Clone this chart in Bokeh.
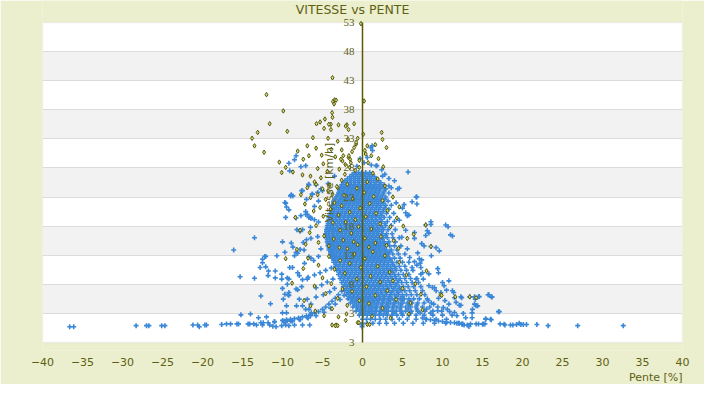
import math
from bokeh.plotting import figure
from bokeh.models import FixedTicker, BoxAnnotation, Title, LabelSet, Label, ColumnDataSource
from bokeh.embed import file_html
from bokeh.resources import INLINE

# ---------------- data ----------------
x_ticks = [-40, -35, -30, -25, -20, -15, -10, -5, 0, 5, 10, 15, 20, 25, 30, 35, 40]
y_ticks = [-2, 3, 8, 13, 18, 23, 28, 33, 38, 43, 48, 53]
y_tick_labels = ["3", "3", "8", "13", "18", "23", "28", "33", "38", "43", "48", "53"]

# dense blue core: (speed, [slopes])
blue_rows = [
    (27.2, [-1.0, -0.5, -0.1, 0.4, 0.9]),
    (26.5, [-1.6, -1.1, -0.6, -0.1, 0.4, 0.9, 1.5]),
    (25.8, [-2.2, -1.6, -1.1, -0.6, -0.1, 0.4, 0.9, 1.4, 2.0]),
    (25.1, [-2.6, -2.0, -1.5, -1.0, -0.5, 0.0, 0.5, 1.0, 1.5, 2.1, 2.7]),
    (24.4, [-2.8, -2.3, -1.8, -1.3, -0.8, -0.3, 0.2, 0.7, 1.2, 1.7, 2.2, 2.9]),
    (23.7, [-3.0, -2.5, -2.0, -1.5, -1.0, -0.5, 0.0, 0.5, 1.0, 1.5, 2.0, 2.6, 3.3]),
    (23.0, [-3.3, -2.7, -2.2, -1.7, -1.2, -0.7, -0.2, 0.3, 0.8, 1.3, 1.8, 2.3, 2.9]),
    (22.3, [-3.6, -3.0, -2.5, -2.0, -1.5, -1.0, -0.5, 0.0, 0.5, 1.0, 1.5, 2.0, 2.5, 3.2]),
    (21.6, [-3.8, -3.2, -2.7, -2.2, -1.7, -1.2, -0.7, -0.2, 0.3, 0.8, 1.3, 1.8, 2.3, 2.9, 3.6]),
    (20.9, [-3.9, -3.5, -3.0, -2.5, -2.0, -1.5, -1.0, -0.5, 0.0, 0.5, 1.0, 1.5, 2.0, 2.6, 3.3]),
    (20.2, [-4.0, -3.6, -3.2, -2.7, -2.2, -1.7, -1.2, -0.7, -0.2, 0.3, 0.8, 1.3, 1.8, 2.3, 3.0, 3.9]),
    (19.5, [-4.2, -3.8, -3.4, -2.9, -2.4, -1.9, -1.4, -0.9, -0.4, 0.1, 0.6, 1.1, 1.6, 2.1, 2.7, 3.4]),
    (18.8, [-4.3, -4.0, -3.6, -3.1, -2.6, -2.1, -1.6, -1.1, -0.6, -0.1, 0.4, 0.9, 1.4, 1.9, 2.4, 3.1, 4.0]),
    (18.1, [-4.4, -4.0, -3.7, -3.2, -2.7, -2.2, -1.7, -1.2, -0.7, -0.2, 0.3, 0.8, 1.3, 1.8, 2.3, 2.9, 3.6]),
    (17.4, [-4.5, -4.1, -3.8, -3.4, -2.9, -2.4, -1.9, -1.4, -0.9, -0.4, 0.1, 0.6, 1.1, 1.6, 2.1, 2.6, 3.2, 4.1]),
    (16.7, [-4.6, -4.2, -3.8, -3.5, -3.0, -2.5, -2.0, -1.5, -1.0, -0.5, 0.0, 0.5, 1.0, 1.5, 2.0, 2.5, 3.0, 3.7]),
    (16.0, [-4.5, -4.1, -3.8, -3.4, -2.9, -2.4, -1.9, -1.4, -0.9, -0.4, 0.1, 0.6, 1.1, 1.6, 2.1, 2.6, 3.1, 3.8, 4.6]),
    (15.3, [-4.4, -4.0, -3.7, -3.3, -2.8, -2.3, -1.8, -1.3, -0.8, -0.3, 0.2, 0.7, 1.2, 1.7, 2.2, 2.7, 3.3, 4.1]),
    (14.6, [-4.3, -3.9, -3.6, -3.2, -2.7, -2.2, -1.7, -1.2, -0.7, -0.2, 0.3, 0.8, 1.3, 1.8, 2.3, 2.8, 3.4, 4.0, 4.8]),
    (13.9, [-4.2, -3.8, -3.5, -3.0, -2.5, -2.0, -1.5, -1.0, -0.5, 0.0, 0.5, 1.0, 1.5, 2.0, 2.5, 3.0, 3.6, 4.3]),
    (13.2, [-4.0, -3.7, -3.3, -2.8, -2.3, -1.8, -1.3, -0.8, -0.3, 0.2, 0.7, 1.2, 1.7, 2.2, 2.7, 3.2, 3.8, 4.5, 5.3]),
    (12.5, [-3.8, -3.5, -3.1, -2.6, -2.1, -1.6, -1.1, -0.6, -0.1, 0.4, 0.9, 1.4, 1.9, 2.4, 2.9, 3.4, 4.0, 4.7]),
    (11.8, [-3.6, -3.3, -2.8, -2.3, -1.8, -1.3, -0.8, -0.3, 0.2, 0.7, 1.2, 1.7, 2.2, 2.7, 3.2, 3.7, 4.3, 5.0, 5.8]),
    (11.1, [-3.4, -3.0, -2.5, -2.0, -1.5, -1.0, -0.5, 0.0, 0.5, 1.0, 1.5, 2.0, 2.5, 3.0, 3.5, 4.0, 4.6, 5.3]),
    (10.4, [-3.2, -2.8, -2.3, -1.8, -1.3, -0.8, -0.3, 0.2, 0.7, 1.2, 1.7, 2.2, 2.7, 3.2, 3.7, 4.2, 4.8, 5.5, 6.3]),
    (9.7, [-3.0, -2.5, -2.0, -1.5, -1.0, -0.5, 0.0, 0.5, 1.0, 1.5, 2.0, 2.5, 3.0, 3.5, 4.0, 4.5, 5.1, 5.8]),
    (9.0, [-2.8, -2.3, -1.8, -1.3, -0.8, -0.3, 0.2, 0.7, 1.2, 1.7, 2.2, 2.7, 3.2, 3.7, 4.2, 4.7, 5.3, 6.0, 6.8]),
    (8.3, [-2.6, -2.1, -1.6, -1.1, -0.6, -0.1, 0.4, 0.9, 1.4, 1.9, 2.4, 2.9, 3.4, 3.9, 4.4, 4.9, 5.5, 6.2, 7.0]),
    (7.6, [-2.4, -1.9, -1.4, -0.9, -0.4, 0.1, 0.6, 1.1, 1.6, 2.1, 2.6, 3.1, 3.6, 4.1, 4.6, 5.1, 5.7, 6.4, 7.3]),
    (6.9, [-2.2, -1.7, -1.2, -0.7, -0.2, 0.3, 0.8, 1.3, 1.8, 2.3, 2.8, 3.3, 3.8, 4.3, 4.8, 5.3, 5.9, 6.6, 7.5]),
    (6.2, [-2.0, -1.5, -1.0, -0.5, 0.0, 0.5, 1.0, 1.5, 2.0, 2.5, 3.0, 3.5, 4.0, 4.5, 5.0, 5.5, 6.1, 6.8, 7.8]),
    (5.5, [-1.8, -1.3, -0.8, -0.3, 0.2, 0.7, 1.2, 1.7, 2.2, 2.7, 3.2, 3.7, 4.2, 4.7, 5.2, 5.8, 6.4, 7.1, 8.1]),
    (4.8, [-1.5, -1.0, -0.5, 0.0, 0.5, 1.0, 1.5, 2.0, 2.5, 3.0, 3.5, 4.0, 4.5, 5.0, 5.6, 6.2, 6.9, 7.7, 8.6]),
    (4.1, [-1.2, -0.7, -0.2, 0.3, 0.8, 1.3, 1.8, 2.3, 2.8, 3.3, 3.8, 4.3, 4.8, 5.4, 6.0, 6.7, 7.5, 8.4, 9.4]),
    (3.4, [-0.8, -0.3, 0.2, 0.7, 1.2, 1.7, 2.2, 2.7, 3.2, 3.7, 4.2, 4.8, 5.4, 6.1, 6.9, 7.8, 8.8, 9.9]),
    (2.7, [-0.4, 0.1, 0.6, 1.1, 1.6, 2.1, 2.6, 3.1, 3.7, 4.3, 5.0, 5.8, 6.7, 7.7, 8.8, 10.0, 11.2]),
    (2.0, [0.0, 0.5, 1.0, 1.6, 2.2, 2.9, 3.7, 4.6, 5.6, 6.7, 7.9, 9.2, 10.5]),
    (1.3, [0.0, 0.6, 1.3, 2.1, 3.0, 4.0, 5.1, 6.3, 7.6, 9.0, 10.4, 11.8]),
    (0.7, [-0.05]),
]

# in-between rows of the same dense core
blue_fill_rows = [
    (26.85, [-1.3, -0.8, -0.3, 0.2, 0.7, 1.2]),
    (26.15, [-1.9, -1.4, -0.9, -0.4, 0.1, 0.6, 1.1, 1.7]),
    (25.45, [-2.4, -1.9, -1.4, -0.9, -0.4, 0.1, 0.6, 1.1, 1.7, 2.3]),
    (24.75, [-2.6, -2.1, -1.6, -1.1, -0.6, -0.1, 0.4, 0.9, 1.4, 1.9, 2.5]),
    (24.05, [-2.9, -2.4, -1.9, -1.4, -0.9, -0.4, 0.1, 0.6, 1.1, 1.6, 2.1, 2.7]),
    (23.35, [-3.1, -2.6, -2.1, -1.6, -1.1, -0.6, -0.1, 0.4, 0.9, 1.4, 1.9, 2.5]),
    (22.65, [-3.4, -2.8, -2.3, -1.8, -1.3, -0.8, -0.3, 0.2, 0.7, 1.2, 1.7, 2.2, 2.8]),
    (21.95, [-3.6, -3.0, -2.5, -2.0, -1.5, -1.0, -0.5, 0.0, 0.5, 1.0, 1.5, 2.0, 2.6]),
    (21.25, [-3.7, -3.3, -2.8, -2.3, -1.8, -1.3, -0.8, -0.3, 0.2, 0.7, 1.2, 1.7, 2.2, 2.8]),
    (20.55, [-3.9, -3.5, -3.0, -2.5, -2.0, -1.5, -1.0, -0.5, 0.0, 0.5, 1.0, 1.5, 2.0, 2.6]),
    (19.85, [-4.1, -3.7, -3.2, -2.7, -2.2, -1.7, -1.2, -0.7, -0.2, 0.3, 0.8, 1.3, 1.8, 2.4]),
    (19.15, [-4.2, -3.8, -3.3, -2.8, -2.3, -1.8, -1.3, -0.8, -0.3, 0.2, 0.7, 1.2, 1.7, 2.3]),
    (18.45, [-4.3, -3.9, -3.4, -2.9, -2.4, -1.9, -1.4, -0.9, -0.4, 0.1, 0.6, 1.1, 1.6, 2.2, 2.8]),
    (17.75, [-4.4, -4.1, -3.6, -3.1, -2.6, -2.1, -1.6, -1.1, -0.6, -0.1, 0.4, 0.9, 1.4, 1.9, 2.5]),
    (17.05, [-4.5, -4.2, -3.7, -3.2, -2.7, -2.2, -1.7, -1.2, -0.7, -0.2, 0.3, 0.8, 1.3, 1.8, 2.4]),
    (16.35, [-4.5, -4.2, -3.7, -3.2, -2.7, -2.2, -1.7, -1.2, -0.7, -0.2, 0.3, 0.8, 1.3, 1.8, 2.4, 2.9]),
    (15.65, [-4.4, -4.1, -3.6, -3.1, -2.6, -2.1, -1.6, -1.1, -0.6, -0.1, 0.4, 0.9, 1.4, 1.9, 2.5]),
    (14.95, [-4.3, -4.0, -3.5, -3.0, -2.5, -2.0, -1.5, -1.0, -0.5, 0.0, 0.5, 1.0, 1.5, 2.0, 2.6, 3.1]),
    (14.25, [-4.2, -3.9, -3.4, -2.9, -2.4, -1.9, -1.4, -0.9, -0.4, 0.1, 0.6, 1.1, 1.6, 2.1, 2.7]),
    (13.55, [-4.0, -3.7, -3.2, -2.7, -2.2, -1.7, -1.2, -0.7, -0.2, 0.3, 0.8, 1.3, 1.8, 2.3, 2.9, 3.4]),
    (12.85, [-3.8, -3.4, -2.9, -2.4, -1.9, -1.4, -0.9, -0.4, 0.1, 0.6, 1.1, 1.6, 2.1, 2.6, 3.1]),
    (12.15, [-3.6, -3.1, -2.6, -2.1, -1.6, -1.1, -0.6, -0.1, 0.4, 0.9, 1.4, 1.9, 2.4, 2.9, 3.5]),
    (11.45, [-3.3, -2.8, -2.3, -1.8, -1.3, -0.8, -0.3, 0.2, 0.7, 1.2, 1.7, 2.2, 2.7, 3.2, 3.8]),
    (10.75, [-3.0, -2.5, -2.0, -1.5, -1.0, -0.5, 0.0, 0.5, 1.0, 1.5, 2.0, 2.5, 3.0, 3.5, 4.1]),
    (10.05, [-2.8, -2.3, -1.8, -1.3, -0.8, -0.3, 0.2, 0.7, 1.2, 1.7, 2.2, 2.7, 3.2, 3.8]),
    (9.35, [-2.6, -2.1, -1.6, -1.1, -0.6, -0.1, 0.4, 0.9, 1.4, 1.9, 2.4, 2.9, 3.5, 4.1]),
    (8.65, [-2.4, -1.9, -1.4, -0.9, -0.4, 0.1, 0.6, 1.1, 1.6, 2.1, 2.6, 3.2, 3.8, 4.5]),
    (7.95, [-2.2, -1.7, -1.2, -0.7, -0.2, 0.3, 0.8, 1.3, 1.8, 2.3, 2.9, 3.5, 4.2]),
    (7.25, [-2.0, -1.5, -1.0, -0.5, 0.0, 0.5, 1.0, 1.5, 2.0, 2.6, 3.2, 3.9, 4.6]),
    (6.55, [-1.8, -1.3, -0.8, -0.3, 0.2, 0.7, 1.2, 1.7, 2.3, 2.9, 3.6, 4.4]),
    (5.85, [-1.6, -1.1, -0.6, -0.1, 0.4, 0.9, 1.5, 2.1, 2.7, 3.4, 4.2, 5.0]),
    (5.15, [-1.3, -0.8, -0.3, 0.2, 0.7, 1.3, 1.9, 2.6, 3.3, 4.1, 5.0, 5.9]),
    (4.45, [-1.0, -0.5, 0.0, 0.5, 1.1, 1.7, 2.4, 3.1, 3.9, 4.8, 5.8, 6.8]),
    (3.75, [-0.6, -0.1, 0.4, 1.0, 1.6, 2.3, 3.0, 3.8, 4.7, 5.7, 6.8, 8.0]),
    (3.05, [-0.2, 0.3, 0.9, 1.5, 2.2, 3.0, 3.9, 4.9, 6.0, 7.2, 8.5]),
    (1.0, [-0.05]),
]

blue_left = [
    (-36.6, 0.7), (-36.1, 0.7), (-28.3, 0.9), (-27.0, 0.9), (-26.7, 0.9), (-25.1, 0.9), (-24.7, 0.9),
    (-21.2, 1.0), (-20.6, 1.0), (-20.4, 0.7), (-19.7, 1.0), (-19.5, 1.0), (-17.6, 1.1), (-17.0, 1.2),
    (-16.5, 1.2), (-15.7, 1.2), (-15.5, 1.2), (-14.3, 1.2), (-14.1, 1.2), (-13.6, 1.2), (-13.25, 1.0),
    (-12.7, 1.4), (-12.4, 1.4), (-11.8, 1.4), (-11.2, 0.8), (-10.8, 0.7), (-10.1, 0.9), (-9.6, 1.0),
    (-9.2, 0.9), (-8.5, 1.0), (-7.5, 1.0), (-6.6, 1.0), (-12.5, 1.0), (-11.6, 1.0),
    (-15.2, 2.75), (-14.0, 2.9), (-13.0, 2.25), (-12.7, 6.0), (-12.0, 2.4), (-11.5, 4.65), (-11.0, 1.55),
    (-10.0, 3.1), (-9.8, 1.7), (-9.4, 1.7), (-9.0, 1.7), (-9.5, 4.3), (-9.7, 6.3), (-9.3, 6.2), (-9.2, 6.1),
    (-13.5, 16.0), (-13.5, 9.05), (-12.8, 10.9), (-12.5, 11.7), (-12.1, 12.8), (-16.1, 13.9), (-15.3, 9.3),
    (-11.0, 1.6), (-8.75, 1.7), (-7.9, 2.0), (-6.9, 2.3), (-6.5, 2.6),
    (-12.5, 12.3), (-12.2, 12.8), (-12.1, 11.0), (-11.75, 10.3), (-11.8, 9.5), (-10.9, 10.3), (-10.9, 9.1),
    (-10.7, 12.9), (-10.1, 9.75), (-10.1, 8.9), (-10.0, 15.3), (-9.7, 13.5), (-9.4, 9.1), (-9.2, 8.9),
    (-9.1, 10.9), (-8.9, 15.1), (-8.75, 10.9), (-8.7, 14.4), (-8.5, 12.9), (-8.3, 13.5), (-8.1, 13.35),
    (-8.1, 10.0), (-7.9, 9.5), (-7.8, 17.1), (-7.8, 14.0), (-7.5, 17.4), (-7.4, 15.2), (-7.3, 13.9),
    (-7.25, 11.6), (-7.0, 15.65), (-6.9, 8.9), (-6.7, 12.7), (-6.5, 17.8), (-6.45, 15.9), (-6.45, 12.5),
    (-9.4, 8.0), (-9.2, 6.6), (-10.0, 7.3), (-8.3, 7.2), (-8.1, 7.05), (-7.6, 7.6), (-7.9, 5.45),
    (-8.25, 4.3), (-9.9, 5.45), (-9.5, 3.1), (-7.5, 4.3), (-6.9, 5.45), (-7.1, 3.7), (-6.45, 4.6),
    (-6.7, 3.7), (-6.4, 3.1),
    (-10.0, 1.8), (-9.5, 1.9), (-9.0, 2.0), (-8.5, 2.1), (-8.0, 2.2), (-7.5, 2.4), (-7.0, 2.6), (-6.5, 2.8),
    (-6.0, 3.0), (-5.5, 3.3), (-5.0, 3.7), (-4.6, 4.1), (-4.2, 4.6), (-3.8, 5.1), (-3.4, 5.6), (-3.0, 6.2),
    (-2.6, 6.8), (-9.8, 1.5), (-8.8, 1.7), (-7.8, 1.9), (-6.8, 2.2), (-5.8, 2.6), (-4.8, 3.2), (-4.0, 3.9),
    (-3.4, 4.6), (-2.8, 5.4), (-2.3, 6.1),
    (-7.5, 8.8), (-6.8, 9.2), (-6.0, 9.6), (-5.3, 10.0), (-4.6, 10.4), (-3.9, 10.8), (-5.8, 7.4),
    (-5.1, 7.9), (-4.4, 8.4), (-3.7, 8.9), (-6.1, 12.1), (-5.5, 12.8), (-5.2, 14.1), (-5.6, 16.2),
    (-5.8, 5.8), (-4.9, 6.2), (-4.1, 6.7), (-3.5, 7.3),
]

blue_upper = [
    (1.2, 31.8), (1.25, 31.0), (1.05, 31.5), (1.8, 28.4), (2.4, 27.7), (3.3, 26.2), (4.0, 25.8),
    (4.6, 24.5), (5.7, 27.3), (2.5, 26.6), (3.3, 24.9), (4.4, 24.4), (1.7, 28.4),
    (-8.3, 30.1), (-8.5, 29.4), (-9.2, 28.8), (-9.1, 27.5), (-7.7, 28.2), (-7.1, 28.4), (-6.7, 25.1),
    (-5.8, 25.1), (-7.6, 24.1), (-8.9, 23.4), (-8.7, 23.2), (-7.0, 22.6), (-9.6, 21.95), (-9.5, 21.3),
    (-9.2, 20.8), (-8.3, 19.4), (-7.1, 20.5), (-6.9, 20.05), (-6.7, 19.5), (-6.45, 19.3), (-8.2, 17.4),
    (-6.75, 25.2), (-9.0, 23.2), (-7.5, 24.1), (-6.25, 23.5), (-5.6, 23.8), (-5.0, 24.1),
    (-9.7, 22.05), (-9.6, 19.5), (-7.7, 19.8), (0.2, 28.9), (-0.3, 29.6), (0.6, 29.8), (-0.7, 28.3),
    (1.1, 28.5), (2.8, 26.9), (3.6, 24.6), (-3.5, 26.6), (-4.3, 25.3), (-5.2, 24.4), (-6.3, 23.5),
    (-5.5, 22.3), (-6.0, 21.4), (-7.1, 20.0), (-6.5, 19.5), (-6.0, 19.1), (-5.5, 18.7),
]

blue_right = [
    (6.7, 23.0), (6.8, 23.0), (6.2, 22.2), (6.8, 21.8), (5.2, 21.7), (5.0, 21.1), (5.6, 19.8), (5.4, 20.3),
    (8.55, 18.75), (8.55, 18.3), (7.9, 18.2), (10.4, 18.2), (10.7, 17.9), (8.1, 17.2), (8.3, 16.8),
    (7.9, 16.4), (11.0, 16.5), (11.25, 16.3), (6.5, 16.9), (6.5, 15.9), (7.4, 15.0), (7.7, 14.6),
    (9.2, 14.3), (9.6, 13.75), (8.55, 14.5), (8.6, 12.9), (7.1, 12.4), (7.4, 12.2), (7.2, 11.6),
    (6.5, 11.9), (6.2, 10.9), (7.3, 10.9), (7.5, 10.0), (6.7, 8.9), (7.3, 9.75), (9.4, 10.7), (9.5, 10.0),
    (10.8, 8.6), (10.0, 8.3), (10.2, 7.75), (9.8, 6.6), (8.75, 7.45), (8.3, 7.75), (9.2, 6.9),
    (11.25, 6.9), (11.4, 6.6), (12.3, 5.85), (12.4, 5.7), (11.5, 5.7), (13.4, 5.85), (14.0, 5.85),
    (14.1, 5.45), (14.5, 5.85), (15.7, 6.2), (16.1, 5.85), (11.7, 4.9), (12.1, 4.4), (12.3, 4.4),
    (10.8, 4.6), (10.1, 4.0), (9.4, 3.45), (10.6, 3.7), (11.5, 3.15), (13.75, 3.7), (14.4, 4.3),
    (12.9, 2.25), (13.7, 2.25), (15.4, 2.0), (16.0, 2.0), (17.1, 3.3), (17.7, 1.15), (18.5, 1.0),
    (13.3, 0.75), (15.0, 1.15), (12.5, 1.15), (7.5, 2.2), (8.0, 2.0), (8.5, 1.9), (9.0, 1.8), (9.5, 1.7),
    (10.0, 1.6), (10.5, 1.5), (11.0, 1.45), (11.5, 1.4), (12.0, 1.3), (12.5, 1.2),
    (17.2, 1.2), (17.8, 1.0), (18.8, 1.0), (19.25, 1.1), (19.6, 1.3), (19.8, 1.1), (20.1, 1.1),
    (20.5, 1.1), (21.8, 1.1), (23.2, 0.9), (26.9, 0.9), (32.6, 0.9), (42.9, 0.8), (17.0, 3.3),
    (16.1, 1.9), (15.4, 2.1), (15.1, 1.2), (15.3, 1.2), (14.5, 1.2), (14.2, 1.2), (13.7, 3.1),
    (13.5, 1.2), (13.1, 1.0), (12.7, 1.0), (12.4, 1.2), (12.1, 1.3), (14.0, 4.6), (14.2, 4.3),
    (15.8, 6.2), (16.2, 5.8), (14.6, 5.9), (8.2, 5.2), (8.9, 4.6), (9.5, 5.6), (10.3, 5.2), (10.9, 3.3),
    (11.8, 2.6), (12.6, 3.0), (9.0, 7.4), (10.5, 7.0), (7.6, 8.9), (8.3, 9.8), (6.8, 11.3), (5.9, 12.6),
    (5.6, 14.1), (6.9, 13.4), (4.9, 16.1), (5.4, 17.3), (4.6, 19.0), (5.8, 19.9), (4.2, 22.0),
]

olive_pts = [
    (-12.0, 40.6), (-9.9, 37.8), (-11.6, 35.6), (-13.1, 34.1), (-13.8, 33.1), (-13.5, 31.8), (-12.3, 30.7),
    (-9.4, 34.3), (-6.9, 31.8), (-6.7, 30.1), (-7.5, 26.8), (-6.5, 26.6), (-10.1, 27.2), (-3.75, 43.5),
    (-3.5, 39.7), (-3.7, 39.4), (-3.55, 39.0), (-3.3, 39.65), (0.2, 39.5), (-0.2, 52.8), (-3.8, 37.5),
    (-3.75, 36.7), (-4.7, 36.4), (-5.3, 35.9), (-5.75, 35.6), (-4.8, 34.8), (-3.95, 34.6), (-3.95, 35.5),
    (-3.0, 35.4), (-1.95, 35.4), (-1.05, 35.6), (-1.75, 34.6), (2.4, 34.1), (2.5, 32.9), (-4.3, 33.1),
    (-2.6, 31.1), (-2.4, 30.1), (-1.75, 29.8), (-1.55, 29.5), (-2.5, 29.2), (-2.15, 28.6), (-0.8, 32.1),
    (-0.6, 33.1), (-4.2, 35.5), (-2.1, 35.2), (-0.8, 32.4), (-1.05, 31.5), (-1.7, 30.1), (-2.7, 29.5),
    (-1.45, 28.9), (0.6, 31.8), (0.4, 30.4), (-0.4, 28.1), (-5.8, 25.2), (-5.0, 24.4), (-3.75, 23.5),
    (-3.1, 24.6),
    (-10.4, 29.0), (-9.6, 28.1), (-8.7, 27.3), (-8.1, 30.9), (-7.4, 29.5), (-6.2, 33.2), (-5.8, 31.4),
    (-5.1, 30.2), (-4.9, 28.7), (-4.4, 27.4), (-5.6, 27.9), (-6.0, 25.6), (-3.9, 31.2), (-3.4, 29.9),
    (-3.1, 32.6), (-2.9, 27.8), (-2.2, 26.9), (-1.8, 32.9), (-1.3, 30.8), (-0.9, 27.6), (-0.4, 29.3),
    (0.1, 33.8), (0.3, 31.0), (0.7, 28.9), (1.1, 30.1), (1.6, 32.0), (2.0, 29.6), (2.6, 28.2), (3.0, 31.5),
    (1.3, 27.1), (-1.6, 28.1), (-2.6, 25.9), (-4.1, 25.1), (-5.2, 26.3), (-6.9, 24.6), (-7.7, 23.4),
    (-7.2, 21.8), (-6.5, 22.9), (-6.1, 20.6), (-5.6, 23.4), (-5.3, 21.2), (-4.9, 19.7), (-4.6, 22.6),
    (-4.3, 24.1), (-4.0, 20.9), (-3.7, 18.6), (-3.5, 22.0), (-3.2, 24.8), (-3.0, 19.9), (-2.8, 17.3),
    (-2.6, 21.5), (-2.3, 23.3), (-2.1, 18.7), (-1.9, 25.2), (-1.6, 20.4), (-1.4, 16.8), (-1.2, 22.7),
    (-0.9, 19.1), (-0.7, 24.5), (-0.5, 17.9), (-0.3, 21.1), (0.2, 23.8), (0.4, 19.6), (0.6, 25.6),
    (0.9, 21.9), (1.1, 17.5), (1.4, 23.1), (1.7, 20.2), (1.9, 26.1), (2.2, 18.4), (2.5, 22.4), (2.8, 24.9),
    (3.1, 20.7), (3.5, 17.9), (3.8, 23.0), (4.3, 19.4), (4.6, 21.3), (5.1, 18.0), (5.6, 15.9), (-6.6, 16.9),
    (-5.8, 18.1), (-5.5, 15.2), (-4.8, 16.3), (-4.2, 14.6), (-3.6, 15.8), (-2.9, 14.3), (-2.4, 15.6),
    (-1.9, 14.1), (-1.1, 15.3), (-0.6, 14.8), (0.3, 15.9), (0.8, 14.4), (1.6, 15.1), (2.3, 16.2),
    (3.0, 14.7), (3.9, 15.5), (4.5, 14.2), (7.9, 18.2), (8.55, 14.5), (6.4, 16.6), (-8.4, 19.5),
    (-7.8, 17.3), (-7.1, 14.9),
    (-7.3, 5.2), (-6.5, 4.3), (-6.0, 7.7), (-5.5, 11.3), (-5.0, 9.1), (-4.6, 6.4), (-4.2, 12.8), (-3.9, 8.1),
    (-3.5, 10.6), (-3.1, 5.6), (-2.8, 12.1), (-2.5, 7.2), (-2.2, 9.9), (-1.9, 4.4), (-1.6, 11.6),
    (-1.3, 6.8), (-1.0, 13.2), (-0.7, 8.9), (-0.4, 5.2), (-0.2, 10.9), (0.3, 12.4), (0.5, 7.6), (0.8, 4.7),
    (1.0, 9.4), (1.3, 13.6), (1.6, 6.1), (1.9, 11.1), (2.2, 8.4), (2.5, 3.9), (2.8, 12.9), (3.1, 6.9),
    (3.4, 10.1), (3.8, 8.6), (4.2, 5.4), (4.6, 11.8), (5.0, 7.3), (5.5, 9.6), (6.0, 4.8), (6.6, 8.1),
    (7.3, 6.3), (8.0, 10.3), (9.75, 6.2), (9.9, 6.1), (11.6, 5.85), (13.4, 5.85), (14.2, 5.7),
    (-8.8, 8.2), (-9.6, 12.4), (-8.2, 14.0), (-7.4, 10.7), (-6.8, 12.5), (-5.9, 3.4), (-4.8, 2.6),
    (-3.8, 3.8), (-3.0, 2.4), (-2.0, 2.9), (1.2, 2.5), (3.5, 2.2), (5.8, 2.9), (7.5, 3.6),
    (-3.8, 1.0), (-3.3, 1.0), (-3.4, 0.9), (-3.1, 0.9), (-0.6, 1.4), (-0.45, 1.4), (0.6, 1.1), (0.9, 1.1),
    (-2.1, 1.8),
]

# ---------------- build columns ----------------
blue_x, blue_y = [], []
for speed, xs in blue_rows + blue_fill_rows:
    for xv in xs:
        blue_x.append(xv)
        blue_y.append(speed)
for xv, yv in blue_left + blue_upper + blue_right:
    blue_x.append(xv)
    blue_y.append(yv)
olive_x = [pt[0] for pt in olive_pts]
olive_y = [pt[1] for pt in olive_pts]

# ---------------- styling ----------------
BG = "#EBEFCD"
TXT = "#5E6014"
AXIS = "#5A5A05"
BLUE = "#3A87D8"
FONT = "DejaVu Sans"

W, H = 704, 384
PLOT_TOP, PLOT_BOTTOM = 22, 342          # pixel rows of the white plot area inside the figure
FRAME_BOTTOM = 350                       # frame reaches a little below the plot area
px_per_unit = (PLOT_BOTTOM - PLOT_TOP) / (y_ticks[-1] - y_ticks[0])
y_lo = y_ticks[0] - (FRAME_BOTTOM - PLOT_BOTTOM) / px_per_unit
y_hi = y_ticks[-1] + PLOT_TOP / px_per_unit

p = figure(width=W, height=H, x_range=(x_ticks[0], x_ticks[-1]), y_range=(y_lo, y_hi),
           output_backend="svg", toolbar_location=None,
           min_border_left=42, min_border_right=22, min_border_top=0,
           min_border_bottom=H - FRAME_BOTTOM)
p.background_fill_color = BG
p.border_fill_color = BG
p.outline_line_color = None

# white plot area with its light border, and the grey bands
p.add_layout(BoxAnnotation(left=x_ticks[0], right=x_ticks[-1], bottom=y_ticks[0], top=y_ticks[-1],
                           fill_color="white", fill_alpha=1.0, line_color="#D6D6D6", line_width=1.5,
                           level="image"))
for lo, hi in zip(y_ticks[1::2], y_ticks[2::2]):
    p.add_layout(BoxAnnotation(bottom=lo, top=hi, fill_color="#F2F2F2", fill_alpha=1.0,
                               line_color=None, level="image"))

p.xgrid.grid_line_color = None
p.ygrid.ticker = FixedTicker(ticks=y_ticks[1:-1])
p.ygrid.grid_line_color = "#DCDCDC"
p.ygrid.grid_line_width = 1

xa = p.xaxis[0]
xa.ticker = FixedTicker(ticks=x_ticks)
xa.axis_line_color = None
xa.major_tick_line_color = None
xa.minor_tick_line_color = None
xa.major_label_text_font = FONT
xa.major_label_text_font_size = "11px"
xa.major_label_text_color = TXT
xa.major_label_standoff = 1

# vertical axis drawn at slope 0 (line only; its labels are placed beside it below)
ya = p.yaxis[0]
ya.fixed_location = 0
ya.bounds = (y_ticks[0], y_ticks[-1])
ya.ticker = FixedTicker(ticks=[])
ya.axis_line_color = AXIS
ya.axis_line_width = 1.5
ya.major_tick_line_color = None
ya.minor_tick_line_color = None

p.add_layout(Title(text="Pente [%]", align="right", text_font=FONT, text_font_size="11px",
                   text_font_style="normal", text_color=TXT, standoff=0), "below")

p.scatter(blue_x, blue_y, marker="cross", size=5, line_width=1.6, line_color=BLUE)
p.scatter(olive_x, olive_y, marker="diamond", size=4.5, line_width=1, line_color="#55580A",
          fill_color="#D3D77E")

tick_src = ColumnDataSource(dict(x=[0] * len(y_ticks), y=y_ticks, text=y_tick_labels))
p.add_layout(LabelSet(x="x", y="y", text="text", source=tick_src, x_offset=-8,
                      text_align="right", text_baseline="middle", text_font=FONT,
                      text_font_size="11px", text_color=TXT))
p.add_layout(Label(x=0, y=(y_ticks[0] + y_ticks[-1]) / 2, text="Vitesse [km/h]", angle=math.pi / 2,
                   x_offset=-33, text_align="center", text_baseline="middle", text_font=FONT,
                   text_font_size="11px", text_color=TXT))
p.add_layout(Label(x=0, y=y_hi, x_offset=-10, y_offset=-1, text="VITESSE vs PENTE",
                   text_align="center", text_baseline="top", text_font=FONT,
                   text_font_size="12.5px", text_color=TXT))

open("out.html", "w").write(file_html(p, INLINE))
